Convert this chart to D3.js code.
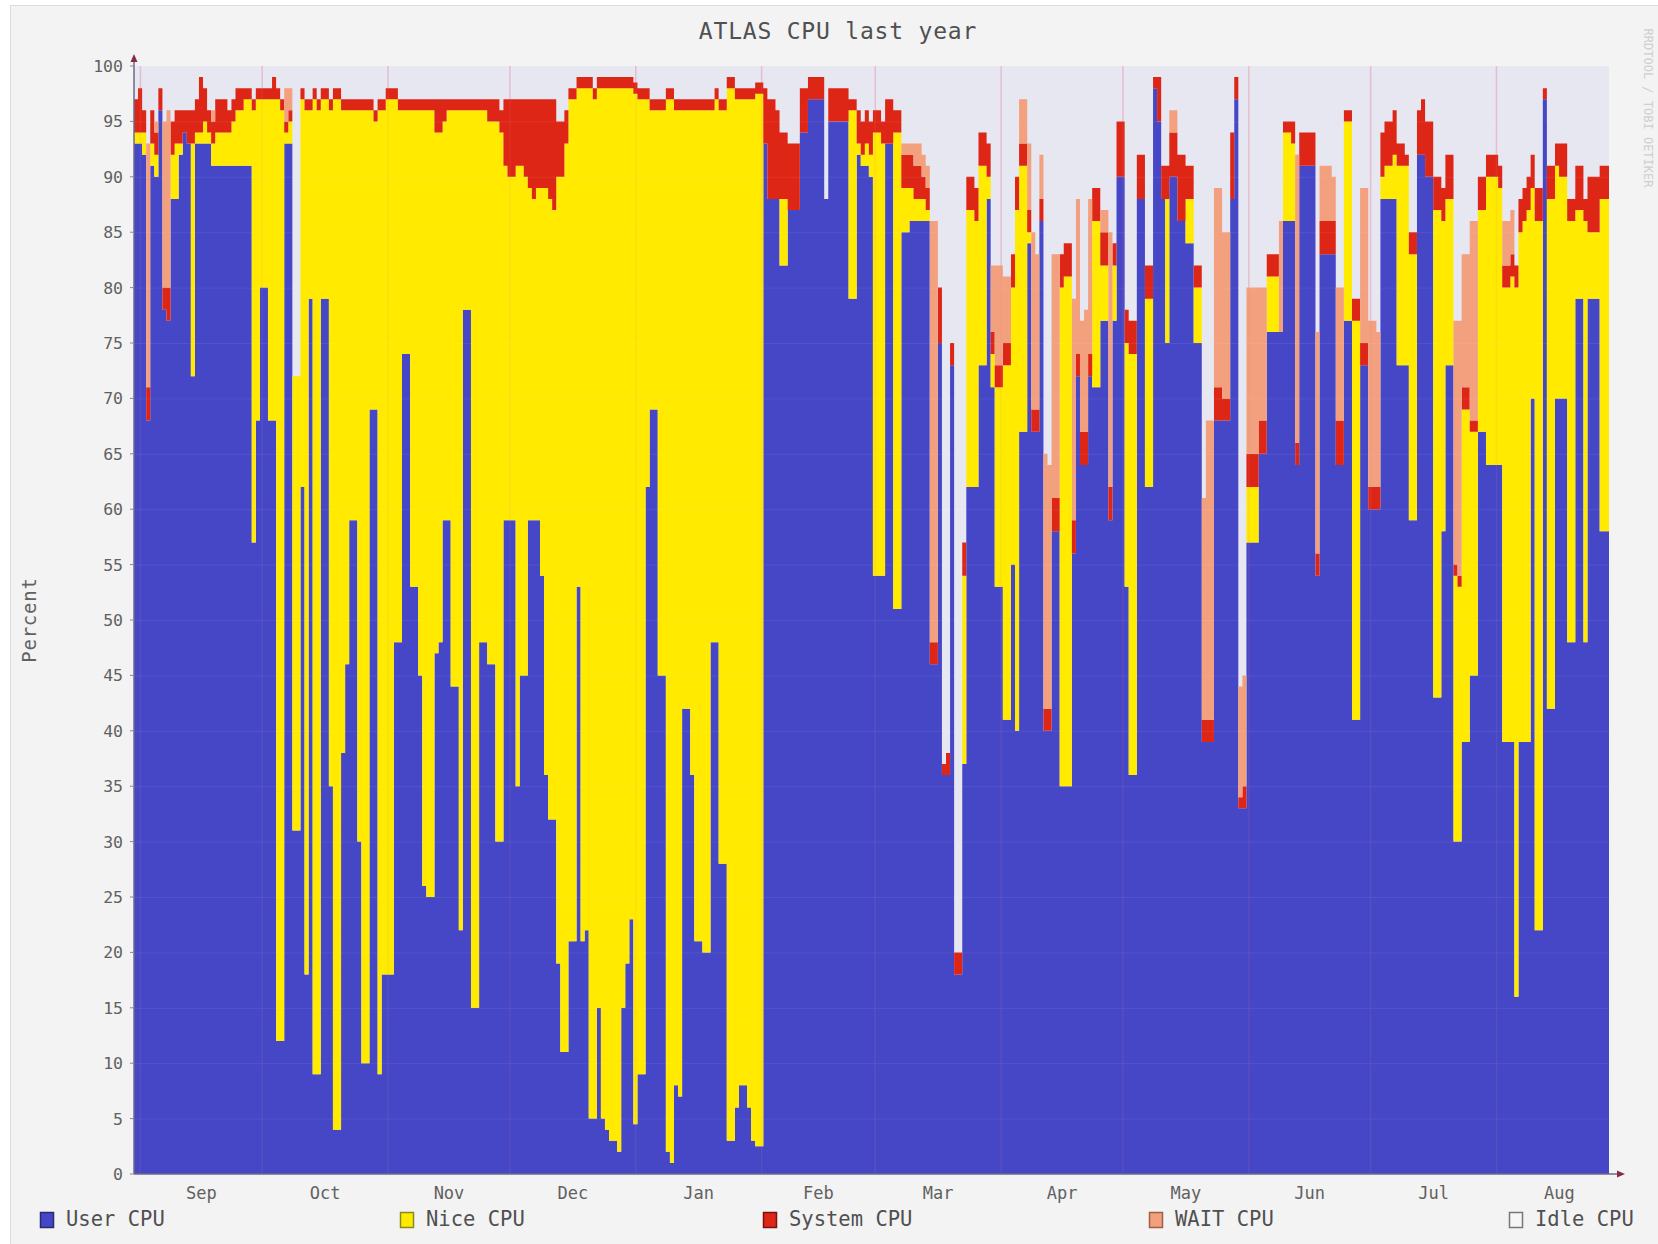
<!DOCTYPE html>
<html>
<head>
<meta charset="utf-8">
<script src="https://cdn.jsdelivr.net/npm/d3@7"></script>
<style>
body { margin: 0; background: #fff; }
text { font-family: "DejaVu Sans Mono", monospace; }
</style>
</head>
<body>
<svg width="1658" height="1244"></svg>
<script>
// one value per day, starting 30 Aug 2010
var user = [
  93,93,92,68,91,90,96,78,77,88, 88,92,94,93,72,93,93,93,93,91,
  91,91,91,91,91,91,91,91,91,57, 68,80,80,68,68,12,12,93,93,31,
  31,62,18,79,9,9,79,79,35,4, 4,38,46,59,59,30,10,10,69,69,
  9,18,18,18,48,48,74,74,53,53, 45,26,25,25,47,48,59,59,44,44,
  22,78,78,15,15,48,48,46,46,30, 30,59,59,59,35,45,45,59,59,59,
  54,36,32,32,19,11,11,21,21,53, 21,22,5,5,15,5,4,3,3,2,
  15,19,23,4.5,9,9,62,69,69,45, 45,2,1,8,7,42,42,36,21,21,
  20,20,48,48,28,28,3,3,6,8, 8,6,3,2.5,2.5,93,88,88,88,82,
  82,87,87,87,94,94,97,97,97,97, 88,95,95,95,95,95,79,79,92,91,
  91,90,54,54,54,93,93,51,51,85, 85,86,86,86,86,86,46,46,75,36,
  36,73,18,18,37,62,62,62,73,73, 88,71,53,53,41,41,55,40,67,67,
  84,67,67,86,40,40,58,58,35,35, 35,56,72,64,64,72,71,71,77,77,
  59,77,90,90,53,36,36,88,88,62, 62,98,95,88,75,90,90,86,86,84,
  84,75,75,39,39,39,68,68,68,68, 88,97,33,33,57,57,57,65,65,76,
  76,76,76,86,86,86,64,91,91,91, 91,54,83,83,83,83,64,64,77,77,
  41,41,73,73,60,60,60,88,88,88, 88,73,73,73,59,59,92,92,90,90,
  43,43,58,73,73,30,30,39,39,45, 45,67,67,64,64,64,64,39,39,39,
  16,39,39,39,70,22,22,97,42,42, 70,70,70,48,48,79,79,48,79,79,
  79,58,58
];
var nice = [
  1,1,2,0,2,2,0,0,0,4, 5,1,0,0,21,1,1,2,1,2,
  3,3,3,3,4,5,5,6,6,39, 29,17,17,29,29,85,84,1,2,41,
  41,35,78,17,88,87,18,18,61,93, 93,58,50,37,37,66,86,86,27,26,
  87,78,79,79,49,48,22,22,43,43, 51,70,71,71,47,46,36,37,52,52,
  74,18,18,81,81,48,48,49,49,65, 64,32,31,31,56,46,45,30,29,30,
  35,53,56,55,71,79,82,76,76,45, 77,76,93,92,83,93,94,95,95,96,
  83,79,75,93,88,88,35,27,27,51, 51,95,96,88,89,54,54,60,75,75,
  76,76,48,49,68,68,95,95,91,89, 89,91,94,95,95,0,0,0,0,6,
  6,0,0,0,0,0,0,0,0,0, 0,0,0,0,0,0,17,17,1,1,
  2,2,40,40,39,0,0,43,43,4, 4,3,2,2,2,1,0,0,0,0,
  0,0,0,0,17,25,25,24,18,18, 2,3,18,18,32,32,25,47,24,24,
  1,0,0,0,0,0,0,0,45,46, 46,0,0,0,0,0,15,15,5,5,
  0,5,0,0,22,38,38,0,0,17, 17,0,0,0,13,0,0,0,0,4,
  4,5,5,0,0,0,0,0,0,0, 0,0,0,0,5,5,5,0,0,5,
  5,5,0,8,8,7,0,0,0,0, 0,0,0,0,0,0,0,0,18,18,
  36,36,0,0,0,0,0,2,3,3, 4,18,18,18,24,24,0,0,0,0,
  44,44,28,15,15,24,23,30,30,22, 22,20,20,26,26,26,25,41,41,42,
  64,46,47,48,19,64,64,0,46,46, 21,20,20,38,38,8,8,38,6,6,
  6,30,30
];
var system = [
  3,4,2,3,3,2,2,2,3,3, 3,3,2,3,3,3,5,3,2,2,
  3,3,3,2,2,2,2,1,1,1, 1,1,1,1,2,1,1,1,1,0,
  0,1,1,1,1,1,1,1,1,1, 1,1,1,1,1,1,1,1,1,1,
  1,1,1,1,1,1,1,1,1,1, 1,1,1,1,3,3,2,1,1,1,
  1,1,1,1,1,1,1,2,2,2, 2,6,7,7,6,6,7,8,9,8,
  8,8,9,10,5,5,3,1,1,1, 1,1,1,1,1,1,1,1,1,1,
  1,1,1,1,1,1,1,1,1,1, 1,1,1,1,1,1,1,1,1,1,
  1,1,1,1,1,1,1,1,1,1, 1,1,1,1,1,5,9,9,8,6,
  6,6,6,6,4,4,2,2,2,2, 0,3,3,3,3,3,1,1,3,3,
  3,3,2,2,2,4,4,2,2,3, 3,3,3,3,2,2,2,2,5,1,
  2,2,2,2,3,3,3,3,3,3, 3,2,2,2,2,2,3,3,2,2,
  2,2,2,2,2,2,3,3,3,3, 3,3,2,3,3,2,3,3,3,3,
  3,2,5,5,3,3,3,4,4,3, 3,1,4,3,3,4,4,6,6,3,
  3,2,2,2,2,2,3,3,2,2, 6,2,1,2,3,3,3,3,3,2,
  2,2,0,1,1,2,2,3,3,3, 3,2,3,3,3,3,4,4,1,1,
  2,2,2,2,2,2,2,4,4,4, 4,2,2,1,2,2,4,5,5,5,
  3,3,3,4,4,1,1,2,2,1, 1,3,3,2,2,2,2,2,2,2,
  2,3,3,3,3,3,3,1,3,3, 2,3,3,2,2,4,4,2,5,5,
  5,3,3
];
var wait = [
  0,0,0,22,0,1,0,15,16,0, 0,0,0,0,0,0,0,0,0,1,
  0,0,0,0,0,0,0,0,0,0, 0,0,0,0,0,0,0,3,2,0,
  0,0,0,0,0,0,0,0,0,0, 0,0,0,0,0,0,0,0,0,0,
  0,0,0,0,0,0,0,0,0,0, 0,0,0,0,0,0,0,0,0,0,
  0,0,0,0,0,0,0,0,0,0, 0,0,0,0,0,0,0,0,0,0,
  0,0,0,0,0,0,0,0,0,0, 0,0,0,0,0,0,0,0,0,0,
  0,0,0,0,0,0,0,0,0,0, 0,0,0,0,0,0,0,0,0,0,
  0,0,0,0,0,0,0,0,0,0, 0,0,0,0,0,0,0,0,0,0,
  0,0,0,0,0,0,0,0,0,0, 0,0,0,0,0,0,0,0,0,0,
  0,0,0,0,0,0,0,0,0,1, 1,1,2,2,2,2,38,38,0,0,
  0,0,0,0,0,0,0,0,0,0, 0,6,9,9,6,6,0,0,4,4,
  6,16,14,4,23,22,22,22,0,0, 0,20,14,10,11,14,0,0,2,2,
  23,0,0,0,0,0,0,0,0,0, 0,0,0,0,0,2,2,0,0,0,
  0,0,0,20,27,27,18,18,15,15, 0,0,10,10,15,15,15,12,12,0,
  0,0,10,0,0,0,26,0,0,0, 0,20,5,5,5,4,12,12,0,0,
  0,0,14,14,15,15,14,0,0,0, 0,0,0,0,0,0,0,0,0,0,
  0,0,0,0,0,22,23,12,12,18, 18,0,0,0,0,0,0,4,4,4,
  0,0,0,0,0,0,0,0,0,0, 0,0,0,0,0,0,0,0,0,0,
  0,0,0
];
var yTicks = d3.range(0, 101, 5);
var monthLabels = ["Sep", "Oct", "Nov", "Dec", "Jan", "Feb", "Mar", "Apr", "May", "Jun", "Jul", "Aug"];
var legendLabels = ["User CPU", "Nice CPU", "System CPU", "WAIT CPU", "Idle CPU"];

var startDate = new Date(Date.UTC(2010, 7, 30, 10)),
    endDate = new Date(+startDate + 363.3 * 864e5),
    keys = ["user", "nice", "system", "wait"],
    colors = {user: "#4547c6", nice: "#ffea00", system: "#de2616", wait: "#f2a07e"},
    idleColor = "#e7e7f2",
    plot = {left: 134, right: 1609, top: 66, bottom: 1174},
    svg = d3.select("svg");

var x = d3.scaleTime().domain([startDate, endDate]).range([plot.left, plot.right]),
    y = d3.scaleLinear().domain([0, 100]).range([plot.bottom, plot.top]);

// page frame
svg.append("rect").attr("width", 1658).attr("height", 1244).attr("fill", "#fff");
svg.append("rect").attr("x", 10.5).attr("y", 5.5).attr("width", 1660).attr("height", 1250)
    .attr("fill", "#f3f3f3").attr("stroke", "#dcdcdc");

// idle = plot background
svg.append("rect")
    .attr("x", plot.left).attr("y", plot.top)
    .attr("width", plot.right - plot.left).attr("height", plot.bottom - plot.top)
    .attr("fill", idleColor);

// month grid sits behind the stack, only seen in idle
var months = d3.utcMonths(startDate, endDate);
svg.append("g").selectAll("line")
    .data(months)
    .enter().append("line")
    .attr("x1", function(d) { return x(d); }).attr("x2", function(d) { return x(d); })
    .attr("y1", plot.top).attr("y2", plot.bottom)
    .attr("stroke", "rgba(230,140,160,0.35)").attr("stroke-width", 1.5);

var rows = user.map(function(u, i) {
    return {date: d3.utcDay.offset(startDate, i), user: u, nice: nice[i] || 0,
            system: system[i] || 0, wait: wait[i] || 0};
});
var last = rows[rows.length - 1];
rows.push({date: endDate, user: last.user, nice: last.nice, system: last.system, wait: last.wait});

var series = d3.stack().keys(keys)(rows);

var area = d3.area()
    .curve(d3.curveStepAfter)
    .x(function(d) { return x(d.data.date); })
    .y0(function(d) { return y(d[0]); })
    .y1(function(d) { return y(d[1]); });

svg.append("g").selectAll("path")
    .data(series)
    .enter().append("path")
    .attr("fill", function(d) { return colors[d.key]; })
    .attr("d", area);

// very faint grid over the marks
svg.append("g").selectAll("line")
    .data(months)
    .enter().append("line")
    .attr("x1", function(d) { return x(d); }).attr("x2", function(d) { return x(d); })
    .attr("y1", plot.top).attr("y2", plot.bottom)
    .attr("stroke", "rgba(225,130,150,0.12)").attr("stroke-width", 1.5);

svg.append("g").selectAll("line")
    .data(yTicks.slice(1))
    .enter().append("line")
    .attr("x1", plot.left).attr("x2", plot.right)
    .attr("y1", function(d) { return y(d) + 0.5; }).attr("y2", function(d) { return y(d) + 0.5; })
    .attr("stroke", "rgba(255,255,255,0.07)");

// axes
svg.append("line").attr("x1", plot.left).attr("x2", plot.left)
    .attr("y1", plot.top - 6).attr("y2", plot.bottom)
    .attr("stroke", "#6a6a8a").attr("stroke-width", 1.5);
svg.append("line").attr("x1", plot.left).attr("x2", plot.right + 10)
    .attr("y1", plot.bottom).attr("y2", plot.bottom)
    .attr("stroke", "#6a6a8a").attr("stroke-width", 1.5);
svg.append("path")
    .attr("d", "M" + (plot.left - 3.5) + "," + (plot.top - 4) + "L" + plot.left + "," + (plot.top - 12) + "L" + (plot.left + 3.5) + "," + (plot.top - 4) + "Z")
    .attr("fill", "#8a2a44");
svg.append("path")
    .attr("d", "M" + (plot.right + 8) + "," + (plot.bottom - 3.5) + "L" + (plot.right + 16) + "," + plot.bottom + "L" + (plot.right + 8) + "," + (plot.bottom + 3.5) + "Z")
    .attr("fill", "#8a2a44");

var yAxis = svg.append("g");
yAxis.selectAll("line")
    .data(yTicks)
    .enter().append("line")
    .attr("x1", plot.left - 4).attr("x2", plot.left)
    .attr("y1", function(d) { return y(d); }).attr("y2", function(d) { return y(d); })
    .attr("stroke", "#888");
yAxis.selectAll("text")
    .data(yTicks)
    .enter().append("text")
    .attr("x", 123)
    .attr("y", function(d) { return y(d); })
    .attr("dy", "0.36em")
    .attr("text-anchor", "end")
    .attr("font-size", 16.5)
    .attr("fill", "#616161")
    .text(function(d) { return d; });

// month labels centred mid-month
svg.append("g").selectAll("text")
    .data(monthLabels)
    .enter().append("text")
    .attr("x", function(d, i) {
        var m = d3.utcMonth.offset(d3.utcMonth.ceil(startDate), i);
        return x(new Date((+m + +d3.utcMonth.offset(m, 1)) / 2));
    })
    .attr("y", 1199)
    .attr("text-anchor", "middle")
    .attr("font-size", 17)
    .attr("fill", "#616161")
    .text(function(d) { return d; });

svg.append("text")
    .attr("x", 838).attr("y", 39)
    .attr("text-anchor", "middle")
    .attr("font-size", 23)
    .attr("letter-spacing", 0.8)
    .attr("fill", "#505050")
    .text("ATLAS CPU last year");

svg.append("text")
    .attr("transform", "translate(36,620) rotate(-90)")
    .attr("text-anchor", "middle")
    .attr("font-size", 19)
    .attr("letter-spacing", 0.8)
    .attr("fill", "#616161")
    .text("Percent");

svg.append("text")
    .attr("transform", "translate(1644,108) rotate(90)")
    .attr("text-anchor", "middle")
    .attr("font-size", 12)
    .attr("fill", "#cfcfcf")
    .text("RRDTOOL / TOBI OETIKER");

// legend
var legendX = [40, 400, 763, 1149, 1509],
    legendFill = [colors.user, colors.nice, colors.system, colors.wait, "#f6f6f6"],
    legendStroke = ["#2a2a70", "#8a8a20", "#7a1010", "#a06040", "#777"];

var legend = svg.append("g").selectAll("g")
    .data(legendLabels)
    .enter().append("g")
    .attr("transform", function(d, i) { return "translate(" + legendX[i] + ",1212)"; });

legend.append("rect")
    .attr("x", 0.5).attr("y", 0.5)
    .attr("width", 13).attr("height", 15)
    .attr("fill", function(d, i) { return legendFill[i]; })
    .attr("stroke", function(d, i) { return legendStroke[i]; })
    .attr("stroke-width", 1.5);

legend.append("text")
    .attr("x", 26).attr("y", 14)
    .attr("font-size", 20.5)
    .attr("fill", "#505050")
    .text(function(d) { return d; });
</script>
</body>
</html>
